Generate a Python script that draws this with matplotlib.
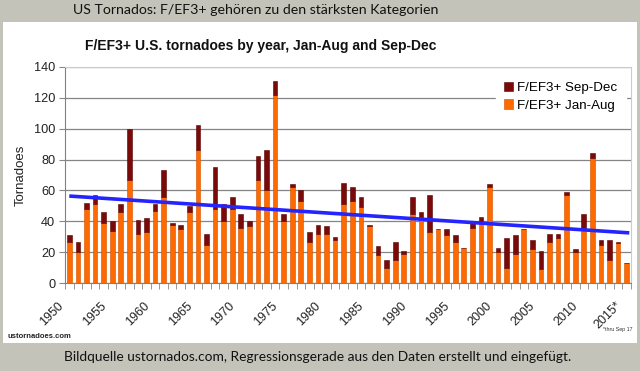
import numpy as np
import matplotlib.pyplot as plt
from matplotlib.patches import Rectangle
from matplotlib.transforms import ScaledTranslation

plt.rcParams['font.family'] = ['Liberation Sans', 'DejaVu Sans']

years = list(range(1950, 2016))
jan_aug = [27, 20, 48, 51, 39, 34, 46, 67, 32, 33,
           47, 56, 38, 35, 46, 86, 25, 48, 40, 48,
           36, 37, 67, 60, 122, 40, 62, 53, 27, 32,
           32, 28, 51, 53, 49, 37, 18, 10, 15, 19,
           45, 43, 33, 35, 31, 27, 23, 36, 39, 62,
           20, 10, 19, 35, 22, 9, 27, 29, 57, 20,
           36, 81, 25, 15, 26, 13]
sep_dec = [4, 7, 4, 6, 7, 6, 5, 33, 9, 9,
           4, 17, 1, 3, 4, 16, 7, 27, 11, 8,
           9, 3, 15, 26, 9, 5, 2, 7, 6, 6,
           5, 2, 14, 9, 7, 1, 6, 5, 12, 2,
           11, 3, 24, 0, 4, 4, 0, 3, 4, 2,
           3, 19, 12, 0, 6, 12, 5, 3, 2, 2,
           9, 3, 3, 13, 1, 0]
# eingezeichnete Regressionsgerade (Endpunkte aus dem Bild)
trend_years = [1950, 2015.3]
trend_values = [56.4, 32.6]
label_years = list(range(1950, 2016, 5))
label_texts = [str(y) for y in label_years[:-1]] + ['2015*']

W, H = 640, 371
fig = plt.figure(figsize=(W / 100, H / 100), dpi=100)
fig.patch.set_facecolor('#c3c3b9')

# weisses Feld fuer das Diagramm
fig.patches.append(Rectangle((3 / W, 1 - 343 / H), 634 / W, 321 / H,
                             transform=fig.transFigure, facecolor='white',
                             edgecolor='none', zorder=-5))

ax = fig.add_axes([65 / W, 1 - 283.3 / H, 566 / W, 216.6 / H])
ax.set_zorder(2)
ax.set_facecolor('white')

x = np.array(years)
ja = np.array(jan_aug)
sd = np.array(sep_dec)
ax.bar(x, ja, width=0.55, color='#ff6a00', edgecolor='#d05000', linewidth=0.4,
       label='F/EF3+ Jan-Aug', zorder=3)
ax.bar(x, sd, bottom=ja, width=0.55, color='#7a0a0a', edgecolor='#5a0000',
       linewidth=0.4, label='F/EF3+ Sep-Dec', zorder=3)

# Regressionsgerade
ax.plot(trend_years, trend_values, color='#2424ff', lw=2.6, zorder=4,
        solid_capstyle='butt')

ax.set_xlim(1949.5, 2015.5)
ax.set_ylim(0, 140)
ax.set_yticks(range(0, 141, 20))
ax.yaxis.grid(True, color='#858585', lw=0.9, zorder=0)
ax.set_axisbelow(True)
ax.tick_params(axis='y', length=4, color='#888888', labelsize=9.2, pad=3,
               labelcolor='#222222')

ax.set_xticks(label_years)
ax.set_xticklabels(label_texts, rotation=45, ha='right', va='top',
                   rotation_mode='anchor', fontsize=9, color='#222222')
ax.set_xticks(np.arange(1949.5, 2016, 1), minor=True)
ax.tick_params(axis='x', which='major', length=0, pad=12)
ax.tick_params(axis='x', which='minor', length=4, color='#888888')
shift = ScaledTranslation(-12 / 100, 0, fig.dpi_scale_trans)
for t in ax.get_xticklabels():
    t.set_transform(t.get_transform() + shift)

for s in ['top', 'right']:
    ax.spines[s].set_color('#cccccc')
ax.spines['left'].set_color('#808080')
ax.spines['bottom'].set_color('#808080')

ax.set_ylabel('Tornadoes', fontsize=9.5, color='#222222', labelpad=5)

h, l = ax.get_legend_handles_labels()
leg = ax.legend(h[::-1], l[::-1], loc='upper right', frameon=True,
                fontsize=9.6, handlelength=0.7, handleheight=0.7,
                handletextpad=0.3, labelspacing=0.4, borderaxespad=0.4,
                bbox_to_anchor=(0.995, 0.98))
leg.get_frame().set_edgecolor('white')
leg.get_frame().set_alpha(1)
leg.get_frame().set_boxstyle('square', pad=0.2)

fig.text(261 / W, 1 - 46 / H, 'F/EF3+ U.S. tornadoes by year, Jan-Aug and Sep-Dec',
         ha='center', va='center', fontsize=10, fontweight='bold', color='#111111')
fig.text(256 / W, 1 - 10.5 / H, 'US Tornados: F/EF3+ gehören zu den stärksten Kategorien',
         ha='center', va='center', fontsize=10.2, family='Lato', color='#111111')
fig.text(318 / W, 1 - 357 / H,
         'Bildquelle ustornados.com, Regressionsgerade aus den Daten erstellt und eingefügt.',
         ha='center', va='center', fontsize=9.9, family='Lato', color='#111111')
fig.text(7 / W, 1 - 337 / H, 'ustornadoes.com', ha='left', va='center',
         fontsize=5.5, fontweight='bold', color='#222222')
fig.text(603 / W, 1 - 329 / H, '*thru Sep 17', ha='left', va='center',
         fontsize=3.8, color='#333333')

fig.savefig('out.png', dpi=100, facecolor=fig.get_facecolor())
